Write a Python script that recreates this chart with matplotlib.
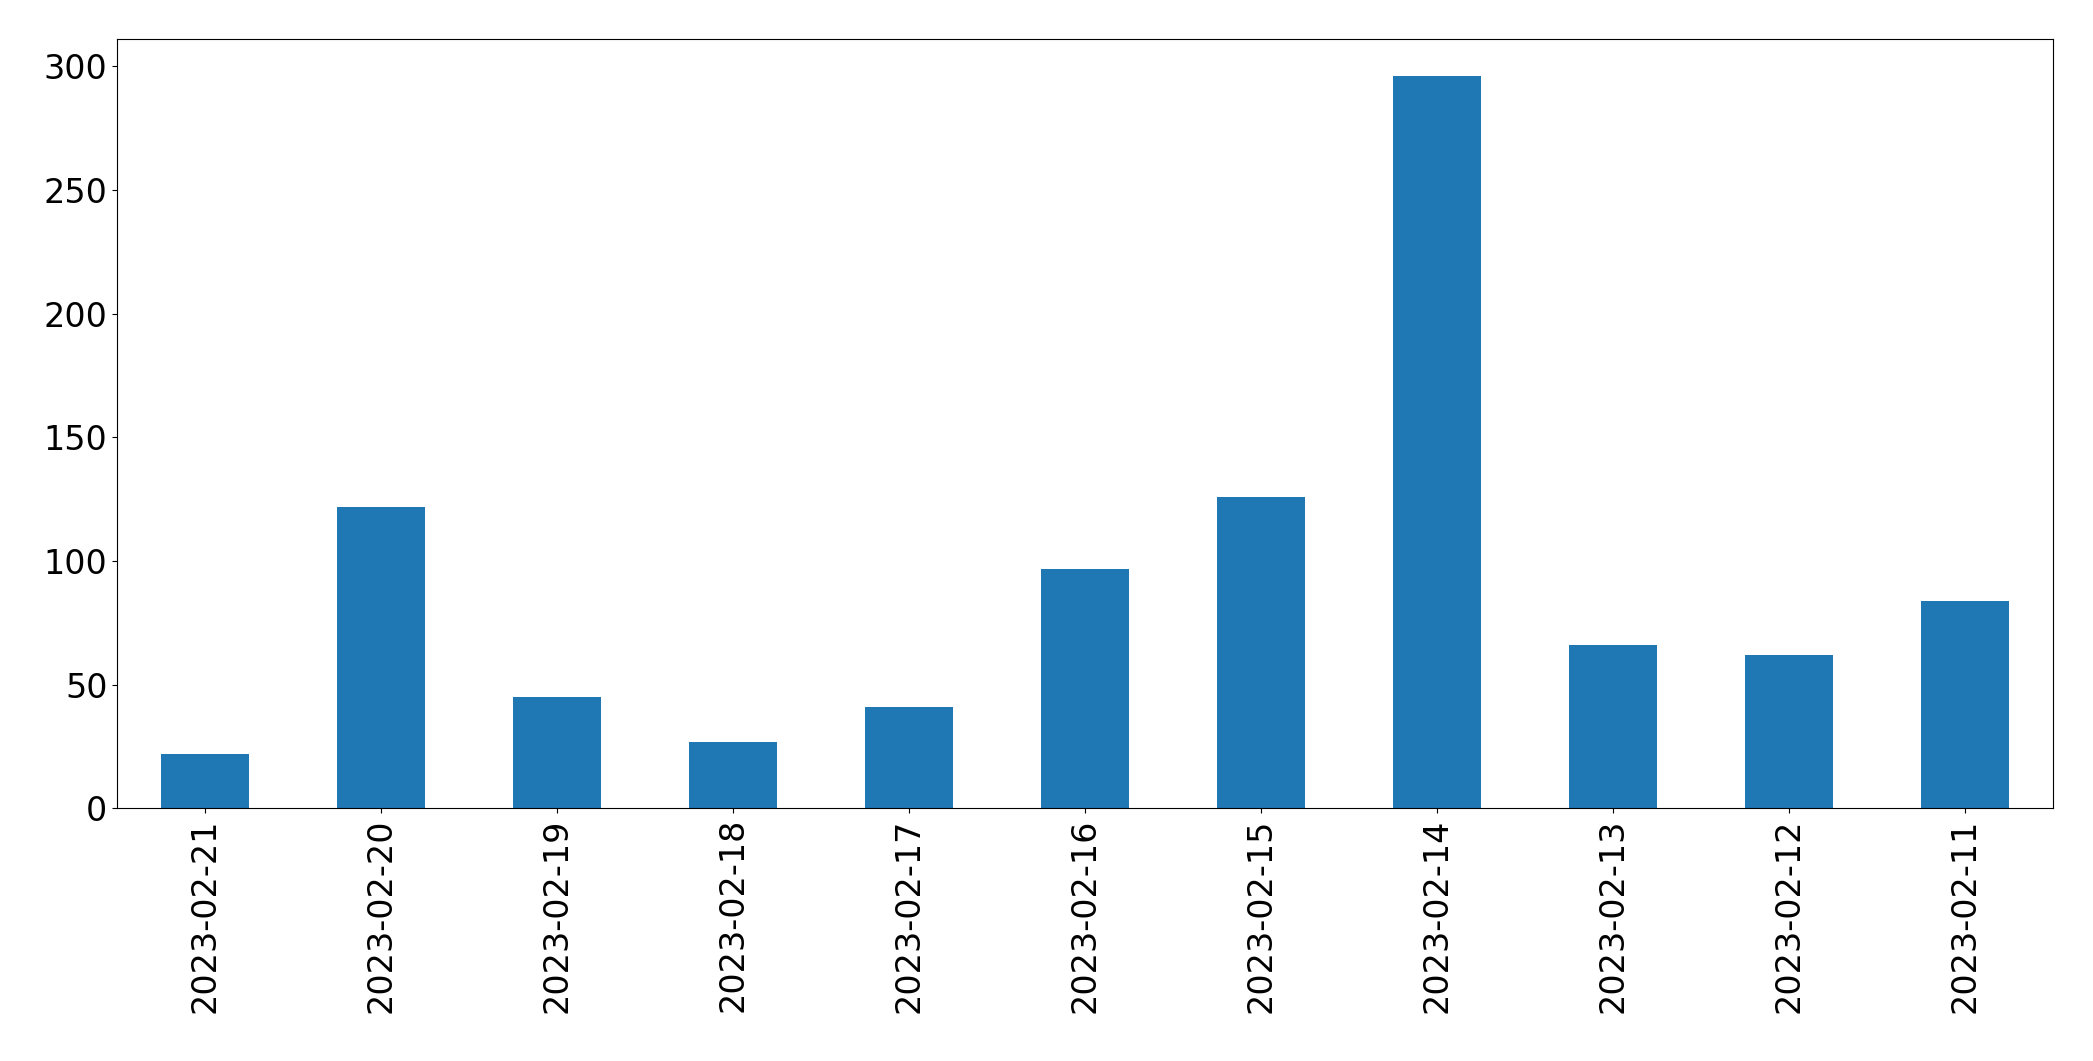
import matplotlib
matplotlib.use("Agg")
import matplotlib.pyplot as plt

dates = ["2023-02-21","2023-02-20","2023-02-19","2023-02-18","2023-02-17","2023-02-16",
         "2023-02-15","2023-02-14","2023-02-13","2023-02-12","2023-02-11"]
counts = [22, 122, 45, 27, 41, 97, 126, 296, 66, 62, 84]

fig = plt.figure(figsize=(20.93, 10.61), dpi=100)
ax = fig.add_axes([0.056, 0.238, 0.925, 0.725])
x = list(range(len(dates)))
ax.bar(x, counts, width=0.5, color="#1f77b4")
ax.set_xticks(x)
ax.set_xticklabels(dates, rotation=90)
ax.set_xlim(-0.5, len(dates) - 0.5)
ax.set_ylim(0, 311)
ax.tick_params(labelsize=24)
fig.savefig("out.png", dpi=100)
